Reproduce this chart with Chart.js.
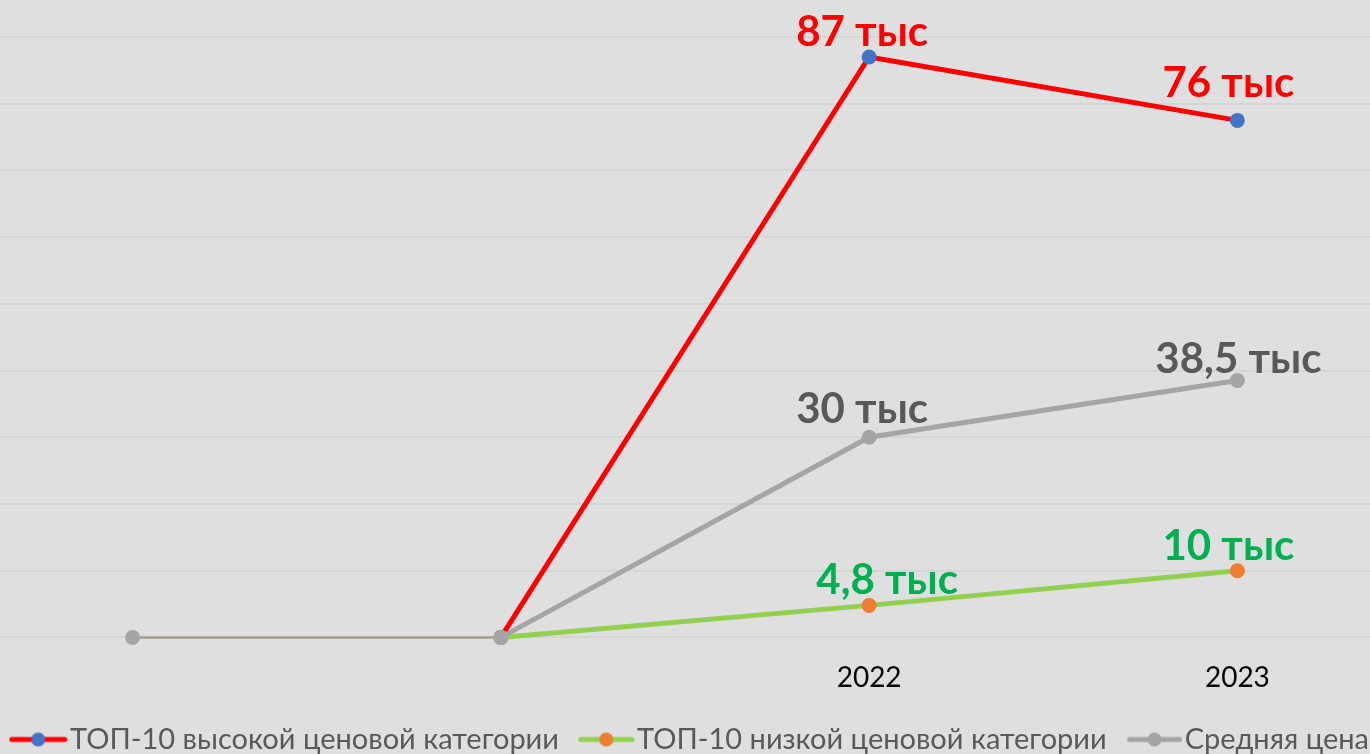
<!DOCTYPE html>
<html>
<head>
<meta charset="utf-8">
<script src="https://cdn.jsdelivr.net/npm/chart.js@4.4.0/dist/chart.umd.min.js"></script>
<style>
  html, body { margin: 0; padding: 0; background: #dfdfdf; overflow: hidden; }
  #chart { position: absolute; left: -59px; top: 0; }
</style>
</head>
<body>
<canvas id="chart" width="1488" height="764"></canvas>
<script>
// данные (тыс. руб.)
const categories = ['', '', '2022', '2023'];
const highValues = [null, 0, 87, 77.5];
const lowValues = [null, 0, 4.8, 10];
const avgValues = [0, 0, 30, 38.5];

const highLabels = [null, null, '87 тыс', '76 тыс'];
const lowLabels = [null, null, '4,8 тыс', '10 тыс'];
const avgLabels = [null, null, '30 тыс', '38,5 тыс'];

const FONT = 'Lato, "Liberation Sans", sans-serif';

// значок легенды: линия с точкой, прижат к правому краю картинки
function legendMark(lineColor, dotColor, len) {
    const c = document.createElement('canvas');
    c.width = 80; c.height = 18;
    const g = c.getContext('2d');
    const x1 = 79 - len, x2 = 79;
    g.strokeStyle = lineColor;
    g.lineWidth = 5;
    g.lineCap = 'round';
    g.beginPath(); g.moveTo(x1 + 2.5, 9); g.lineTo(x2 - 2.5, 9); g.stroke();
    g.fillStyle = dotColor;
    g.beginPath(); g.arc((x1 + x2) / 2, 9, 7, 0, Math.PI * 2); g.fill();
    return c;
}

// подписи значений над точками
const pointLabels = {
    id: 'pointLabels',
    afterDatasetsDraw(chart) {
        const ctx = chart.ctx;
        chart.data.datasets.forEach((ds, i) => {
            const meta = chart.getDatasetMeta(i);
            meta.data.forEach((pt, j) => {
                const text = ds.valueLabels[j];
                if (!text) return;
                const shift = ds.labelShift[j] || [0, 0];
                ctx.save();
                ctx.font = 'bold 42px ' + FONT;
                ctx.fillStyle = ds.labelColor;
                ctx.textAlign = 'center';
                ctx.textBaseline = 'alphabetic';
                ctx.fillText(text, pt.x + shift[0], pt.y + shift[1]);
                ctx.restore();
            });
        });
    }
};

const ctx = document.getElementById('chart').getContext('2d');
new Chart(ctx, {
    type: 'line',
    data: {
        labels: categories,
        datasets: [
            {
                label: 'ТОП-10 высокой ценовой категории',
                data: highValues,
                borderColor: '#ff0000',
                borderWidth: 5,
                pointBackgroundColor: '#4472c4',
                pointBorderWidth: 0,
                pointRadius: 7.5,
                clip: false,
                valueLabels: highLabels,
                labelColor: '#ff0000',
                labelShift: [null, null, [-7, -11], [-9, -23]],
                legendImg: legendMark('#ff0000', '#4472c4', 58),
                order: 2
            },
            {
                label: 'ТОП-10 низкой ценовой категории',
                data: lowValues,
                borderColor: '#92d050',
                borderWidth: 5,
                pointBackgroundColor: '#ed7d31',
                pointBorderWidth: 0,
                pointRadius: 7.5,
                clip: false,
                valueLabels: lowLabels,
                labelColor: '#00b050',
                labelShift: [null, null, [18, -11], [-9, -11]],
                legendImg: legendMark('#92d050', '#ed7d31', 56),
                order: 1
            },
            {
                label: 'Средняя цена',
                data: avgValues,
                borderColor: '#a5a5a5',
                borderWidth: 5,
                segment: {
                    borderWidth: c => c.p0DataIndex === 0 ? 2.5 : 5,
                    borderColor: c => c.p0DataIndex === 0 ? '#a19f8d' : '#a5a5a5'
                },
                pointBackgroundColor: '#a5a5a5',
                pointBorderWidth: 0,
                pointRadius: 7.5,
                clip: false,
                valueLabels: avgLabels,
                labelColor: '#595959',
                labelShift: [null, null, [-7, -14], [1, -8]],
                legendImg: legendMark('#a5a5a5', '#a5a5a5', 55),
                order: 0
            }
        ]
    },
    options: {
        responsive: false,
        animation: false,
        layout: { padding: { top: 37, left: 0, right: 0, bottom: 0 } },
        scales: {
            x: {
                offset: true,
                grid: { display: false },
                border: { display: false },
                ticks: { color: '#000000', font: { family: FONT, size: 28 }, padding: 16 },
                afterFit(scale) { scale.height += 5; }
            },
            y: {
                min: 0,
                max: 90,
                ticks: { display: false, stepSize: 10 },
                border: { display: false },
                grid: { color: '#d5d5d5', lineWidth: 2, drawTicks: false }
            }
        },
        plugins: {
            tooltip: { enabled: false },
            legend: {
                position: 'bottom',
                labels: {
                    color: '#595959',
                    font: { family: FONT, size: 29 },
                    usePointStyle: true,
                    pointStyleWidth: 54.5,
                    padding: 9,
                    generateLabels(chart) {
                        return chart.data.datasets.map((ds, i) => ({
                            text: ds.label,
                            pointStyle: ds.legendImg,
                            fontColor: '#595959',
                            lineWidth: 0,
                            datasetIndex: i
                        }));
                    }
                }
            }
        }
    },
    plugins: [pointLabels]
});
</script>
</body>
</html>
